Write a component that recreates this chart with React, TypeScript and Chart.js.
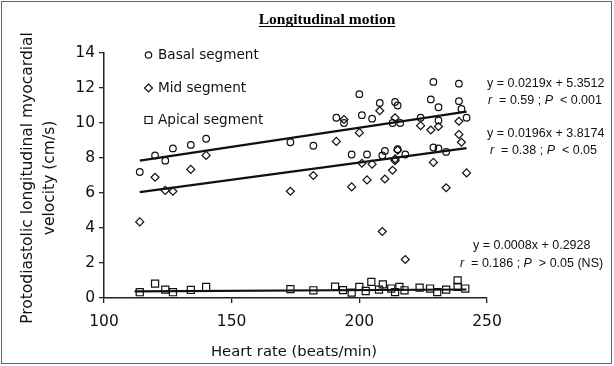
import { useEffect, useRef } from 'react';
import { Chart, registerables } from 'chart.js';
Chart.register(...registerables);

const basalX = [114, 120, 124, 127, 134, 140, 173, 182, 191, 194, 197, 200, 201, 203, 205, 208, 209, 210, 213, 214, 215, 215, 216, 218, 224, 228, 229, 229, 231, 231, 231, 234, 239, 239, 240, 242];
const basalY = [7.2, 8.15, 7.85, 8.55, 8.75, 9.1, 8.9, 8.7, 10.3, 10.0, 8.2, 11.65, 10.45, 8.2, 10.25, 11.15, 8.15, 8.4, 10.0, 11.2, 11.0, 8.5, 10.0, 8.2, 10.3, 11.35, 12.35, 8.6, 10.9, 10.15, 8.55, 8.35, 12.25, 11.25, 10.8, 10.3];

const midX = [114, 120, 124, 127, 134, 140, 173, 182, 191, 194, 197, 200, 201, 203, 205, 208, 209, 210, 213, 214, 214, 214, 215, 218, 224, 228, 229, 231, 234, 239, 239, 240, 242];
const midY = [4.35, 6.9, 6.15, 6.1, 7.35, 8.15, 6.1, 7.0, 8.95, 10.2, 6.35, 9.45, 7.7, 6.75, 7.65, 10.7, 3.8, 6.8, 7.3, 10.3, 7.95, 7.85, 8.45, 2.2, 9.85, 9.6, 7.75, 9.8, 6.3, 10.1, 9.35, 8.9, 7.15];

const apicalX = [114, 120, 124, 127, 134, 140, 173, 182, 190.5, 193.6, 197, 200, 202.5, 204.7, 207.7, 209.2, 212.5, 214, 215.7, 217.7, 223.6, 227.7, 230.5, 234, 238.5, 238.5, 241.5];
const apicalY = [0.33, 0.82, 0.48, 0.33, 0.46, 0.63, 0.51, 0.44, 0.65, 0.45, 0.31, 0.63, 0.4, 0.92, 0.48, 0.78, 0.54, 0.34, 0.63, 0.44, 0.59, 0.54, 0.34, 0.48, 1.01, 0.63, 0.54];

const seriesNames = ['Basal segment', 'Mid segment', 'Apical segment'];
const trendSlopes = [0.0219, 0.0196, 0.0008];
const trendIntercepts = [5.3512, 3.8174, 0.2928];
const trendStart = [114, 114, 112];
const trendEnd = [242, 242, 242];
const eqLines = ['y = 0.0219x + 5.3512', 'y = 0.0196x + 3.8174', 'y = 0.0008x + 0.2928'];
const rValues = ['0.59', '0.38', '0.186'];
const pTexts = ['< 0.001', '< 0.05', '> 0.05 (NS)'];

const xMin = 100;
const xMax = 250;
const xStep = 50;
const yMin = 0;
const yMax = 14;
const yStep = 2;

const toPts = (xs: number[], ys: number[]) => xs.map((x, i) => ({ x, y: ys[i] }));
const trendPts = (i: number) => [
  { x: trendStart[i], y: trendSlopes[i] * trendStart[i] + trendIntercepts[i] },
  { x: trendEnd[i], y: trendSlopes[i] * trendEnd[i] + trendIntercepts[i] },
];

const FONT = '"DejaVu Sans", sans-serif';
const EQFONT = '"Liberation Sans", sans-serif';

const textPlugin = {
  id: 'texts',
  afterDraw(chart: any) {
    const ctx = chart.ctx as CanvasRenderingContext2D;
    ctx.save();
    // frame
    ctx.strokeStyle = '#666';
    ctx.lineWidth = 1;
    ctx.strokeRect(1.5, 1.5, 610, 362);

    // title
    ctx.fillStyle = '#000';
    ctx.font = 'bold 15.5px "Liberation Serif", serif';
    ctx.textAlign = 'center';
    ctx.textBaseline = 'alphabetic';
    const title = 'Longitudinal motion';
    const tw = ctx.measureText(title).width;
    ctx.fillText(title, 327, 24);
    ctx.fillRect(327 - tw / 2, 26, tw, 1);

    // axis titles
    ctx.font = '14.8px ' + FONT;
    ctx.textBaseline = 'middle';
    ctx.fillStyle = '#111';
    ctx.fillText('Heart rate (beats/min)', 294, 352);
    ctx.font = '15.5px ' + FONT;
    ctx.save();
    ctx.translate(28, 178);
    ctx.rotate(-Math.PI / 2);
    ctx.fillText('Protodiastolic longitudinal myocardial', 0, 0);
    ctx.restore();
    ctx.save();
    ctx.translate(50, 178);
    ctx.rotate(-Math.PI / 2);
    ctx.fillText('velocity (cm/s)', 0, 0);
    ctx.restore();

    // legend
    const legY = [55, 88, 120];
    ctx.textAlign = 'left';
    ctx.font = '13.6px ' + FONT;
    ctx.strokeStyle = '#111';
    ctx.lineWidth = 1.2;
    seriesNames.forEach((name, i) => {
      const cx = 148.5;
      const cy = legY[i];
      ctx.beginPath();
      if (i === 0) ctx.arc(cx, cy, 3.2, 0, Math.PI * 2);
      else if (i === 1) {
        ctx.moveTo(cx, cy - 4);
        ctx.lineTo(cx + 4, cy);
        ctx.lineTo(cx, cy + 4);
        ctx.lineTo(cx - 4, cy);
        ctx.closePath();
      } else ctx.rect(cx - 3.5, cy - 3.5, 7, 7);
      ctx.stroke();
      ctx.fillText(name, 158, cy);
    });

    // equations
    const eqX = [487, 487, 473];
    const rX = [488, 490, 460];
    const eqY = [84, 134, 246];
    const rY = [101, 151, 264];
    eqLines.forEach((line, i) => {
      ctx.font = '12.5px ' + EQFONT;
      ctx.fillText(line, eqX[i], eqY[i]);
      let x = rX[i];
      ctx.font = 'italic 12.5px ' + EQFONT;
      ctx.fillText('r', x, rY[i]);
      x += ctx.measureText('r').width;
      ctx.font = '12.5px ' + EQFONT;
      const mid = '  = ' + rValues[i] + ' ; ';
      ctx.fillText(mid, x, rY[i]);
      x += ctx.measureText(mid).width;
      ctx.font = 'italic 12.5px ' + EQFONT;
      ctx.fillText('P', x, rY[i]);
      x += ctx.measureText('P').width;
      ctx.font = '12.5px ' + EQFONT;
      ctx.fillText('  ' + pTexts[i], x, rY[i]);
    });
    ctx.restore();
  },
};

export default function App() {
  const ref = useRef<HTMLCanvasElement | null>(null);
  useEffect(() => {
    document.body.style.margin = '0';
    if (!ref.current) return;
    const pointCommon = {
      showLine: false,
      borderColor: '#111',
      backgroundColor: 'rgba(255,255,255,0)',
      pointBorderWidth: 1.2,
    };
    const lineCommon = {
      showLine: true,
      borderColor: '#111',
      borderWidth: 2.2,
      pointRadius: 0,
      fill: false,
    };
    const chart = new Chart(ref.current, {
      type: 'scatter',
      data: {
        datasets: [
          { ...lineCommon, label: 't1', data: trendPts(0) },
          { ...lineCommon, label: 't2', data: trendPts(1) },
          { ...lineCommon, label: 't3', data: trendPts(2) },
          { ...pointCommon, label: seriesNames[0], data: toPts(basalX, basalY), pointStyle: 'circle', pointRadius: 3.3 },
          { ...pointCommon, label: seriesNames[1], data: toPts(midX, midY), pointStyle: 'rectRot', pointRadius: 4 },
          { ...pointCommon, label: seriesNames[2], data: toPts(apicalX, apicalY), pointStyle: 'rect', pointRadius: 5 },
        ] as any,
      },
      options: {
        animation: false,
        responsive: false,
        devicePixelRatio: 1,
        layout: { padding: { left: 0, right: 127, top: 53, bottom: 0 } },
        plugins: { legend: { display: false }, tooltip: { enabled: false }, title: { display: false } },
        scales: {
          x: {
            type: 'linear',
            min: xMin,
            max: xMax,
            ticks: { stepSize: xStep, color: '#111', font: { family: FONT, size: 15.5 }, padding: 10, maxRotation: 0 },
            grid: { display: true, drawOnChartArea: false, drawTicks: true, tickLength: 5, color: '#222', lineWidth: 1.3 },
            border: { display: true, color: '#222', width: 1.5 },
            afterFit: (s: any) => { s.height = 68; },
          },
          y: {
            type: 'linear',
            min: yMin,
            max: yMax,
            ticks: { stepSize: yStep, color: '#111', font: { family: FONT, size: 15.5 }, padding: 4 },
            grid: { display: true, drawOnChartArea: false, drawTicks: true, tickLength: 5, color: '#222', lineWidth: 1.3 },
            border: { display: true, color: '#222', width: 1.5 },
            afterFit: (s: any) => { s.width = 104; },
          },
        },
      },
      plugins: [textPlugin],
    });
    return () => chart.destroy();
  }, []);
  return (
    <div style={{ width: 614, height: 366, background: '#fff' }}>
      <canvas ref={ref} width={614} height={366} style={{ display: 'block' }} />
    </div>
  );
}
